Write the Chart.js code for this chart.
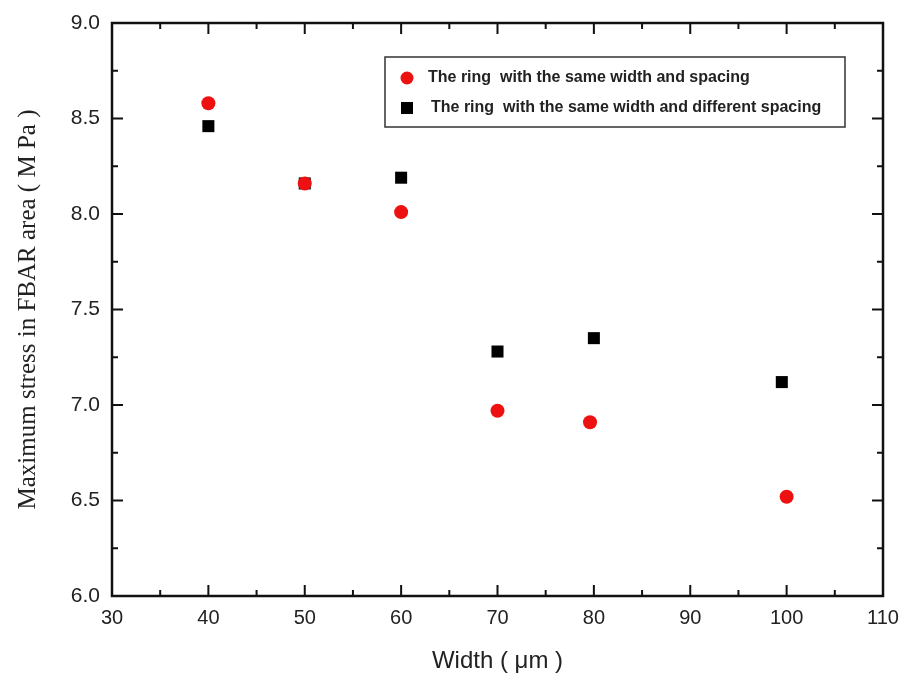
<!DOCTYPE html>
<html>
<head>
    <title>Maximum stress vs width</title>
    <script src="https://cdn.jsdelivr.net/npm/chart.js"></script>
    <style>
        body { margin: 0; background: #fff; }
        #wrap { width: 905px; height: 682px; }
    </style>
</head>
<body>
    <div id="wrap"><canvas id="myChart" width="905" height="682"></canvas></div>
    <script>
        // series
        var sameLabel = 'The ring  with the same width and spacing';
        var sameX = [40, 50, 60, 70, 79.6, 100];
        var sameY = [8.58, 8.16, 8.01, 6.97, 6.91, 6.52];

        var diffLabel = 'The ring  with the same width and different spacing';
        var diffX = [40, 50, 60, 70, 80, 99.5];
        var diffY = [8.46, 8.16, 8.19, 7.28, 7.35, 7.12];

        var xTicks = [30, 40, 50, 60, 70, 80, 90, 100, 110];
        var yTicks = [6.0, 6.5, 7.0, 7.5, 8.0, 8.5, 9.0];

        function toPoints(xs, ys) {
            return xs.map(function(x, i) { return { x: x, y: ys[i] }; });
        }

        // frame + inward ticks on all four sides, like the original plot
        var framePlugin = {
            id: 'frame',
            afterDatasetsDraw: function(chart) {
                var c = chart.ctx, a = chart.chartArea;
                var xs = chart.scales.x, ys = chart.scales.y;
                c.save();
                c.strokeStyle = '#111';
                c.lineWidth = 2.5;
                c.strokeRect(a.left, a.top, a.right - a.left, a.bottom - a.top);
                c.lineWidth = 2;
                c.beginPath();
                for (var v = 30; v <= 110; v += 5) {
                    var px = xs.getPixelForValue(v);
                    var len = (v % 10 === 0) ? 11 : 6;
                    c.moveTo(px, a.bottom); c.lineTo(px, a.bottom - len);
                    c.moveTo(px, a.top); c.lineTo(px, a.top + len);
                }
                for (var w = 6.0; w <= 9.001; w += 0.25) {
                    var py = ys.getPixelForValue(w);
                    var major = Math.abs(w * 2 - Math.round(w * 2)) < 0.01;
                    var l2 = major ? 11 : 6;
                    c.moveTo(a.left, py); c.lineTo(a.left + l2, py);
                    c.moveTo(a.right, py); c.lineTo(a.right - l2, py);
                }
                c.stroke();
                c.restore();
            }
        };

        // legend box sitting inside the plot
        var boxLegend = {
            id: 'boxLegend',
            afterDraw: function(chart) {
                var c = chart.ctx;
                c.save();
                c.fillStyle = '#fff';
                c.fillRect(385, 57, 460, 70);
                c.strokeStyle = '#333';
                c.lineWidth = 1.5;
                c.strokeRect(385, 57, 460, 70);
                c.font = 'bold 16px "Liberation Sans", Arial, sans-serif';
                c.textBaseline = 'middle';
                c.fillStyle = '#ee1111';
                c.beginPath(); c.arc(407, 78, 6.5, 0, Math.PI * 2); c.fill();
                c.fillStyle = '#000';
                c.fillRect(401, 102, 12, 12);
                c.fillStyle = '#222';
                c.fillText(chart.data.datasets[0].label, 428, 78);
                c.fillText(chart.data.datasets[1].label, 431, 108);
                c.restore();
            }
        };

        var ctx = document.getElementById('myChart').getContext('2d');
        var myChart = new Chart(ctx, {
            type: 'scatter',
            data: {
                datasets: [{
                    label: sameLabel,
                    data: toPoints(sameX, sameY),
                    pointStyle: 'circle',
                    pointRadius: 7,
                    backgroundColor: '#ee1111',
                    borderColor: '#ee1111',
                    borderWidth: 0
                }, {
                    label: diffLabel,
                    data: toPoints(diffX, diffY),
                    pointStyle: 'rect',
                    pointRadius: 8.5,
                    backgroundColor: '#000',
                    borderColor: '#000',
                    borderWidth: 0
                }]
            },
            options: {
                responsive: false,
                animation: false,
                layout: { padding: { left: 0, top: 23, right: 22, bottom: 0 } },
                plugins: {
                    legend: { display: false },
                    tooltip: { enabled: false }
                },
                scales: {
                    x: {
                        type: 'linear',
                        min: 30, max: 110,
                        afterBuildTicks: function(s) { s.ticks = xTicks.map(function(v) { return { value: v }; }); },
                        afterFit: function(s) { s.height = 86; s.paddingLeft = 0; s.paddingRight = 0; },
                        grid: { display: false, drawTicks: false },
                        border: { display: false },
                        ticks: {
                            color: '#222',
                            padding: 10,
                            font: { family: '"Liberation Sans", Arial, sans-serif', size: 20 }
                        },
                        title: {
                            display: true,
                            text: 'Width ( μm )',
                            color: '#222',
                            padding: { top: 8, bottom: 6 },
                            font: { family: '"Liberation Sans", Arial, sans-serif', size: 24 }
                        }
                    },
                    y: {
                        type: 'linear',
                        min: 6.0, max: 9.0,
                        afterBuildTicks: function(s) { s.ticks = yTicks.map(function(v) { return { value: v }; }); },
                        afterFit: function(s) { s.width = 112; s.paddingTop = 0; s.paddingBottom = 0; },
                        grid: { display: false, drawTicks: false },
                        border: { display: false },
                        ticks: {
                            color: '#222',
                            padding: 12,
                            font: { family: '"Liberation Sans", Arial, sans-serif', size: 21 },
                            callback: function(v) { return Number(v).toFixed(1); }
                        },
                        title: {
                            display: true,
                            text: 'Maximum stress in FBAR area ( M Pa )',
                            color: '#222',
                            padding: { top: 13, bottom: 4 },
                            font: { family: '"Liberation Serif", "Times New Roman", serif', size: 25 }
                        }
                    }
                }
            },
            plugins: [framePlugin, boxLegend]
        });
    </script>
</body>
</html>
